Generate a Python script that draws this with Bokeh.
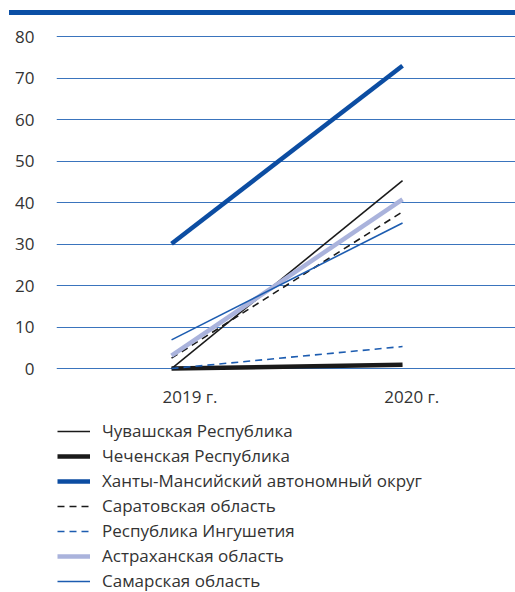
from bokeh.plotting import figure
from bokeh.layouts import column
from bokeh.models import (Range1d, Legend, LegendItem, ColumnDataSource, FixedTicker, Div)
from bokeh.embed import file_html
from bokeh.resources import INLINE

years = ["2019 г.", "2020 г."]
names = [
    "Чувашская Республика",
    "Чеченская Республика",
    "Ханты-Мансийский автономный округ",
    "Саратовская область",
    "Республика Ингушетия",
    "Астраханская область",
    "Самарская область",
]
chuvash = [0.0, 45.3]
chechen = [0.0, 0.9]
khmao = [30.1, 73.0]
saratov = [2.5, 37.8]
ingush = [0.0, 5.3]
astrakhan = [3.1, 40.8]
samara = [6.9, 35.1]
values = [chuvash, chechen, khmao, saratov, ingush, astrakhan, samara]
y_ticks = [0, 10, 20, 30, 40, 50, 60, 70, 80]

styles = [
    dict(color="#1a1a1a", width=1.6, dash="solid"),
    dict(color="#1a1a1a", width=4.5, dash="solid"),
    dict(color="#0c4da2", width=4.5, dash="solid"),
    dict(color="#1a1a1a", width=1.6, dash="7 5"),
    dict(color="#1c5cb0", width=1.6, dash="7 5"),
    dict(color="#aab3dc", width=4.5, dash="solid"),
    dict(color="#1c5cb0", width=1.6, dash="solid"),
]

FONT = "Open Sans"
TXT = "#333333"
FS = "17px"

xs = list(range(len(years)))            # category positions
label_offsets = [0.08, 0.04]              # category labels sit slightly right of points
label_pos = [i + o for i, o in zip(xs, label_offsets)]

# top decorative bar
bar = Div(text="", width=506, height=5, margin=(10, 0, 0, 9),
          styles={"background-color": "#0b4fa5"})

p = figure(
    frame_width=459, frame_height=343,
    x_range=Range1d(-0.498, 1.489),
    y_range=Range1d(-1.2, 81.5),
    output_backend="svg", toolbar_location=None,
    min_border_top=15, min_border_left=56, min_border_right=0, min_border_bottom=46,
)
p.outline_line_color = None

p.xgrid.grid_line_color = None
p.ygrid.grid_line_color = "#3a74bd"
p.ygrid.grid_line_width = 1.2

p.yaxis.ticker = y_ticks
p.yaxis.axis_line_color = None
p.yaxis.major_tick_line_color = None
p.yaxis.minor_tick_line_color = None
p.yaxis.major_label_standoff = 16
p.yaxis.major_label_text_font = FONT
p.yaxis.major_label_text_font_size = FS
p.yaxis.major_label_text_color = TXT

p.xaxis.ticker = FixedTicker(ticks=label_pos)
p.xaxis.major_label_overrides = {pos: lab for pos, lab in zip(label_pos, years)}
p.xaxis.axis_line_color = None
p.xaxis.major_tick_line_color = None
p.xaxis.minor_tick_line_color = None
p.xaxis.major_label_standoff = 5
p.xaxis.major_label_text_font = FONT
p.xaxis.major_label_text_font_size = FS
p.xaxis.major_label_text_color = TXT

for vals, st in zip(values, styles):
    src = ColumnDataSource(dict(x=xs, y=vals))
    p.line("x", "y", source=src, line_color=st["color"], line_width=st["width"],
           line_dash=st["dash"])

# legend panel
q = figure(
    width=515, height=173, x_range=Range1d(0, 1), y_range=Range1d(0, 1),
    output_backend="svg", toolbar_location=None,
    x_axis_location=None, y_axis_location=None, min_border=0,
)
q.grid.visible = False
q.outline_line_color = None

nan = float("nan")
items = []
for name, st in zip(names, styles):
    r = q.line(x=[nan, nan], y=[nan, nan], line_color=st["color"], line_width=st["width"],
               line_dash=st["dash"])
    items.append(LegendItem(label=name, renderers=[r]))

legend = Legend(
    items=items, location=(1, 0), orientation="vertical",
    label_text_font=FONT, label_text_font_size=FS, label_text_color=TXT,
    glyph_width=33, glyph_height=20, label_standoff=12, label_height=20,
    spacing=2, padding=0, margin=0, border_line_color=None,
    background_fill_alpha=0,
)
q.add_layout(legend, "center")

open("out.html", "w").write(file_html(column(bar, p, q, spacing=0), INLINE))
